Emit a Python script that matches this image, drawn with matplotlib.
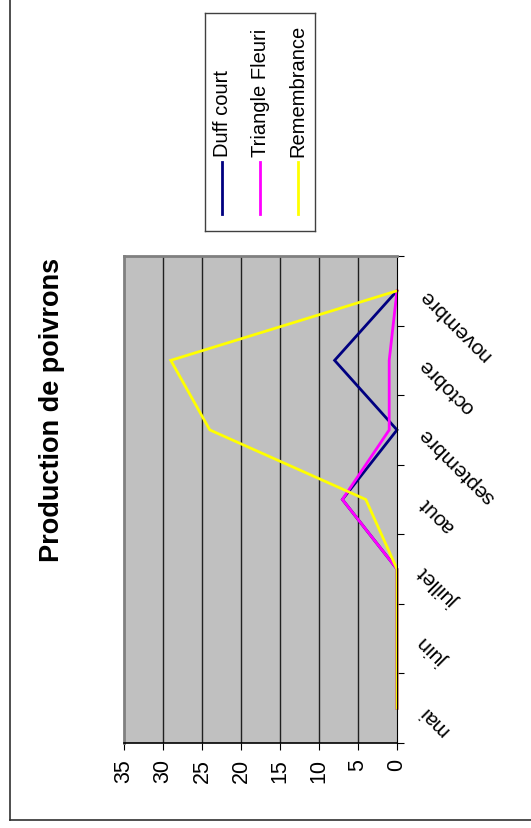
import matplotlib
matplotlib.use("Agg")
import matplotlib.pyplot as plt
from matplotlib.lines import Line2D

plt.rcParams['font.family'] = ['Liberation Sans', 'DejaVu Sans']

# data
mois = ['mai', 'juin', 'juillet', 'aout', 'septembre', 'octobre', 'novembre']
duff_court = [0, 0, 0, 7, 0, 8, 0]
triangle_fleuri = [0, 0, 0, 7, 1, 1, 0]
remembrance = [0, 0, 0, 4, 24, 29, 0]
series_names = ['Duff court', 'Triangle Fleuri', 'Remembrance']
series_colors = ['#000080', '#FF00FF', '#FFFF00']
value_ticks = [0, 5, 10, 15, 20, 25, 30, 35]

W, H = 531, 829
fig = plt.figure(figsize=(W / 100, H / 100), dpi=100)

# plot area (chart is drawn rotated by 90 degrees)
ax = fig.add_axes([124 / W, 1 - 744 / H, 273 / W, 487 / H])
ax.set_facecolor('#C0C0C0')
pos = list(range(len(mois)))
for vals, name, col in zip([duff_court, triangle_fleuri, remembrance], series_names, series_colors):
    ax.plot(vals, pos, color=col, lw=2, solid_joinstyle='miter', label=name, clip_on=False)

ax.set_xlim(35, 0)
ax.set_ylim(-0.5, len(mois) - 0.5)
ax.set_xticks(value_ticks)
ax.set_xticklabels([str(v) for v in value_ticks], rotation=90, fontsize=15.5)
ax.tick_params(axis='x', direction='out', length=5, pad=6, color='black')
for v in value_ticks[1:-1]:
    ax.axvline(v, color='#202020', lw=1, zorder=0.5)

ax.yaxis.tick_right()
ax.set_yticks([p - 0.5 for p in pos] + [len(mois) - 0.5])
ax.set_yticklabels([])
ax.set_yticks(pos, minor=True)
ax.set_yticklabels(mois, minor=True, rotation=135, ha='right', va='center',
                   rotation_mode='anchor', fontsize=15)
ax.tick_params(axis='y', which='major', direction='out', length=5, color='black')
ax.tick_params(axis='y', which='minor', length=0, pad=18)

ax.spines['left'].set_color('#808080')
ax.spines['left'].set_linewidth(2)
ax.spines['top'].set_color('#808080')
ax.spines['top'].set_linewidth(2)
ax.spines['right'].set_color('black')
ax.spines['bottom'].set_color('black')
ax.spines['bottom'].set_linewidth(1.2)

# title
fig.text(52 / W, 1 - 410 / H, 'Production de poivrons', rotation=90,
         ha='center', va='center', fontsize=19.5, fontweight='bold')

# legend box
lax = fig.add_axes([205 / W, 1 - 232 / H, 110 / W, 218 / H])
lax.set_xlim(205, 315)
lax.set_ylim(232, 14)
lax.set_xticks([])
lax.set_yticks([])
for s in lax.spines.values():
    s.set_color('#404040')
    s.set_linewidth(1)
for x, name, col in zip([222, 260, 297.5], series_names, series_colors):
    lax.plot([x, x], [215, 163], color=col, lw=2)
    lax.text(x, 157, name, rotation=90, ha='center', va='bottom', fontsize=14.5)

# outer border (left and bottom)
fig.add_artist(Line2D([10 / W, 10 / W], [1 - 821 / H, 1], transform=fig.transFigure,
                      color='#303030', lw=1.2))
fig.add_artist(Line2D([10 / W, 1], [1 - 821 / H, 1 - 821 / H], transform=fig.transFigure,
                      color='#303030', lw=1.2))

fig.savefig('out.png', dpi=100)
